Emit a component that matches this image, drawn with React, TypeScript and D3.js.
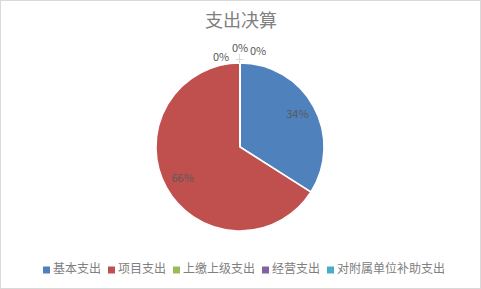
import React from "react";
import * as d3 from "d3";

const categories = ["基本支出", "项目支出", "上缴上级支出", "经营支出", "对附属单位补助支出"];
const values = [34, 66, 0, 0, 0];
const colors = ["#4F81BD", "#C0504D", "#9BBB59", "#8064A2", "#4BACC6"];
const title = "支出决算";

const W = 481, H = 289;
const cx = 240, cy = 147, R = 84;
const FONT = "'Noto Sans CJK SC', 'Noto Sans', sans-serif";

export default function App() {
  const total = d3.sum(values);
  const pie = d3.pie<number>().sort(null).value((d) => d);
  const arcs = pie(values);
  const arc = d3.arc<d3.PieArcDatum<number>>().innerRadius(0).outerRadius(R);
  const labelArc = d3.arc<d3.PieArcDatum<number>>().innerRadius(R * 0.78).outerRadius(R * 0.78);
  const fmt = (v: number) => `${Math.round((v / total) * 100)}%`;

  // Zero-value labels placed above the top of the pie (Excel-style)
  const zeroPos: Record<number, [number, number]> = {
    1: [221, 58],
    2: [240, 49],
    3: [258, 52],
  };
  // Note: index mapping for zero slices: red end label at left, then others
  const zeroLabels = [
    { i: 2, x: 221, y: 58 },
    { i: 3, x: 240, y: 49 },
    { i: 4, x: 258, y: 52 },
  ];

  // legend layout
  const legendY = 270;
  const charW = 12;
  let lx = 43;
  const legendItems = categories.map((c, i) => {
    const item = { c, i, x: lx };
    lx += 7 + 3 + c.length * charW + 7;
    return item;
  });

  return (
    <svg width={W} height={H} style={{ position: "absolute", left: 0, top: 0, background: "#fff" }}>
      <rect x={0.5} y={0.5} width={W - 1} height={H - 1} fill="#fff" stroke="#d9d9d9" />
      <text x={241} y={22} textAnchor="middle" dominantBaseline="middle" fontFamily={FONT} fontSize={18} fill="#808080">
        {title}
      </text>
      <g transform={`translate(${cx},${cy})`}>
        {arcs.map((a, i) => (
          <path key={i} d={arc(a) || ""} fill={colors[i]} stroke="#fff" strokeWidth={1.5} />
        ))}
        {arcs.map((a, i) => {
          if (a.data === 0) return null;
          const [x, y] = labelArc.centroid(a);
          return (
            <text key={"l" + i} x={x} y={y} textAnchor="middle" dominantBaseline="middle" fontFamily={FONT} fontSize={11} fill="#595959">
              {fmt(a.data)}
            </text>
          );
        })}
      </g>
      <line x1={239.5} y1={54} x2={239.5} y2={63} stroke="#d9d9d9" strokeWidth={1} />
      <line x1={236} y1={59.5} x2={243} y2={59.5} stroke="#d9d9d9" strokeWidth={1} />
      {zeroLabels.map((z) => (
        <text key={"z" + z.i} x={z.x} y={z.y} textAnchor="middle" dominantBaseline="middle" fontFamily={FONT} fontSize={11} fill="#595959">
          {fmt(values[z.i])}
        </text>
      ))}
      {legendItems.map((it) => (
        <g key={"lg" + it.i}>
          <rect x={it.x} y={legendY - 3.5} width={7} height={7} fill={colors[it.i]} />
          <text x={it.x + 10} y={legendY} dominantBaseline="middle" fontFamily={FONT} fontSize={12} fill="#808080">
            {it.c}
          </text>
        </g>
      ))}
    </svg>
  );
}
